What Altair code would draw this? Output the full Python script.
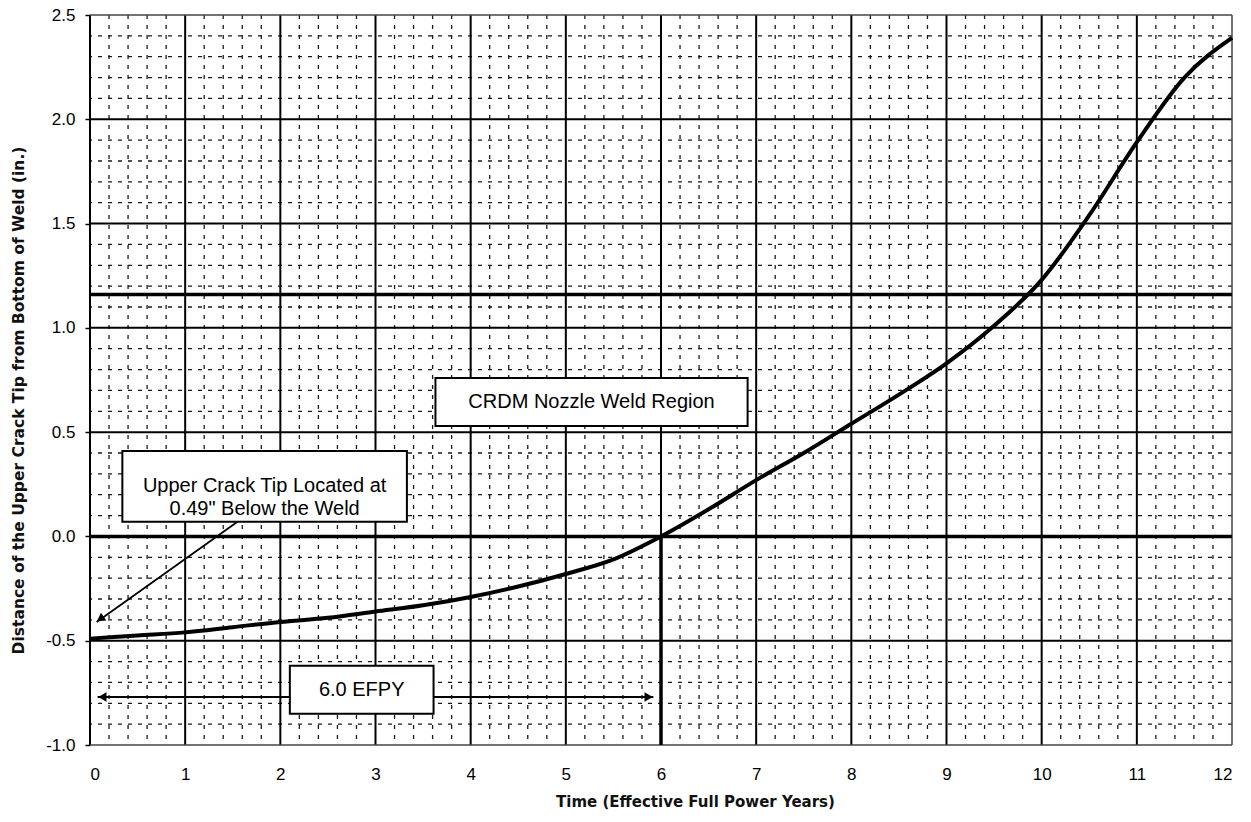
import altair as alt
import pandas as pd

# ---- data ----
time_efpy = [0, 0.5, 1, 1.5, 2, 2.5, 3, 3.5, 4, 4.5, 5, 5.5, 6, 6.5, 7, 7.5, 8, 8.5, 9, 9.5, 10, 10.5, 11, 11.5, 12]
distance_in = [-0.49, -0.475, -0.46, -0.435, -0.41, -0.39, -0.36, -0.33, -0.29, -0.24, -0.18, -0.11, 0.0, 0.13,
               0.27, 0.40, 0.54, 0.68, 0.83, 1.01, 1.23, 1.54, 1.89, 2.2, 2.39]

x_ticks = [0, 1, 2, 3, 4, 5, 6, 7, 8, 9, 10, 11, 12]
y_ticks = [-1.0, -0.5, 0.0, 0.5, 1.0, 1.5, 2.0, 2.5]
x_major_lines = [0, 1, 2, 3, 4, 5, 6, 7, 8, 9, 10, 11]
y_major_lines = [-0.5, 0.5, 1.0, 1.5, 2.0]
x_minor_lines = [i / 5 for i in range(61) if i % 5]
y_minor_lines = [round(-1 + i / 10, 1) for i in range(36) if i % 5]
thick_y_lines = [0.0, 1.16]          # bottom of weld, top of weld region

efpy_marker_x = [6.0]
efpy_marker_y = [-1.0]
efpy_marker_y2 = [0.0]

box_labels = ["CRDM Nozzle Weld Region", "Upper Crack Tip Located at\n0.49\" Below the Weld", "6.0 EFPY"]
box_x = [3.63, 0.34, 2.10]
box_x2 = [6.91, 3.33, 3.61]
box_y = [0.76, 0.41, -0.62]
box_y2 = [0.53, 0.07, -0.85]

# arrows
span_arrow_x = [0.08]
span_arrow_x2 = [5.92]
span_arrow_y = [-0.77]
diag_arrow_x = [1.55]
diag_arrow_y = [0.07]
diag_arrow_x2 = [0.07]
diag_arrow_y2 = [-0.41]

XT = "Time (Effective Full Power Years)"
YT = "Distance of the Upper Crack Tip from Bottom of Weld (in.)"

xs = alt.Scale(domain=[0, 12], nice=False, zero=False)
ys = alt.Scale(domain=[-1.0, 2.5], nice=False, zero=False)

x_axis = alt.Axis(values=x_ticks, format="d", tickSize=0, labelPadding=21, domain=False, grid=False,
                  labelFont="Liberation Sans", labelFontSize=17, labelColor="black",
                  titleFont="DejaVu Sans", titleFontSize=15, titleColor="#111", titleFontWeight="bold",
                  titleX=605, titleY=56, titleBaseline="middle", titleAlign="center")
y_axis = alt.Axis(values=y_ticks, tickSize=5, tickWidth=1.5, tickColor="black", labelPadding=10,
                  labelExpr="datum.value < 0 ? '-' + format(-datum.value, '.1f') : format(datum.value, '.1f')",
                  domain=False, grid=False,
                  labelFont="Liberation Sans", labelFontSize=17, labelColor="black",
                  titleFont="DejaVu Sans", titleFontSize=15.5, titleColor="#111", titleFontWeight="bold",
                  titleX=-72, titleY=385, titleAngle=-90, titleBaseline="middle", titleAlign="center")


def X(field):
    return alt.X(field, type="quantitative", scale=xs, axis=x_axis, title=XT)


def Y(field):
    return alt.Y(field, type="quantitative", scale=ys, axis=y_axis, title=YT)


curve_df = pd.DataFrame({"t": time_efpy, "d": distance_in})

minor_v = alt.Chart(pd.DataFrame({"x": x_minor_lines})).mark_rule(
    color="#1a1a1a", strokeWidth=1.3, strokeDash=[4, 6]).encode(x=X("x"))
minor_h = alt.Chart(pd.DataFrame({"y": y_minor_lines})).mark_rule(
    color="#1a1a1a", strokeWidth=1.3, strokeDash=[4, 6]).encode(y=Y("y"))
major_v = alt.Chart(pd.DataFrame({"x": x_major_lines})).mark_rule(
    color="black", strokeWidth=2).encode(x=X("x"))
major_h = alt.Chart(pd.DataFrame({"y": y_major_lines})).mark_rule(
    color="black", strokeWidth=2).encode(y=Y("y"))
frame_v = alt.Chart(pd.DataFrame({"x": [12]})).mark_rule(
    color="#444", strokeWidth=1.5).encode(x=X("x"))
frame_h = alt.Chart(pd.DataFrame({"y": [-1.0, 2.5]})).mark_rule(
    color="#444", strokeWidth=1.5).encode(y=Y("y"))
thick_h = alt.Chart(pd.DataFrame({"y": thick_y_lines})).mark_rule(
    color="black", strokeWidth=3.5).encode(y=Y("y"))
efpy_v = alt.Chart(pd.DataFrame({"x": efpy_marker_x, "y": efpy_marker_y, "y2": efpy_marker_y2})).mark_rule(
    color="black", strokeWidth=3.5).encode(x=X("x"), y=Y("y"), y2="y2")

curve = alt.Chart(curve_df).mark_line(color="black", strokeWidth=4, interpolate="monotone").encode(
    x=X("t"), y=Y("d"))

span_line = alt.Chart(pd.DataFrame({"x": span_arrow_x, "x2": span_arrow_x2, "y": span_arrow_y})).mark_rule(
    color="black", strokeWidth=2).encode(x=X("x"), x2="x2", y=Y("y"))
span_heads = alt.Chart(pd.DataFrame({
    "x": [span_arrow_x[0] + 0.05, span_arrow_x2[0] - 0.05],
    "y": [span_arrow_y[0], span_arrow_y[0]],
    "s": ["triangle-left", "triangle-right"]})).mark_point(
    filled=True, color="black", size=90, opacity=1).encode(
    x=X("x"), y=Y("y"), shape=alt.Shape("s:N", scale=None, legend=None))

diag_line = alt.Chart(pd.DataFrame({"x": diag_arrow_x, "y": diag_arrow_y,
                                    "x2": diag_arrow_x2, "y2": diag_arrow_y2})).mark_rule(
    color="black", strokeWidth=1.8).encode(x=X("x"), y=Y("y"), x2="x2", y2="y2")
diag_head = alt.Chart(pd.DataFrame({"x": [diag_arrow_x2[0] + 0.05], "y": [diag_arrow_y2[0] + 0.018]})).mark_point(
    shape="triangle", filled=True, color="black", size=90, opacity=1, angle=235).encode(x=X("x"), y=Y("y"))

box_df = pd.DataFrame({"label": box_labels, "x": box_x, "x2": box_x2, "y": box_y, "y2": box_y2})
box_df["cx"] = (box_df["x"] + box_df["x2"]) / 2
box_df["cy"] = (box_df["y"] + box_df["y2"]) / 2
boxes = alt.Chart(box_df).mark_rect(fill="white", stroke="black", strokeWidth=2).encode(
    x=X("x"), x2="x2", y=Y("y"), y2="y2")
box_text = alt.Chart(box_df).mark_text(font="Liberation Sans", fontSize=20, color="black",
                                       lineBreak="\n", lineHeight=23, align="center",
                                       baseline="middle").encode(
    x=X("cx"), y=Y("cy"), text="label:N")

chart = alt.layer(
    minor_v, minor_h, major_v, major_h, frame_v, frame_h, thick_h, efpy_v, curve,
    span_line, span_heads, diag_line, diag_head, boxes, box_text
).properties(
    width=1142, height=730,
    autosize=alt.AutoSizeParams(type="none"),
    padding={"left": 90, "top": 15, "right": 19, "bottom": 77},
    background="white",
).configure_view(stroke=None)

chart.save("out.html", embed_options={"renderer": "svg", "actions": False})
